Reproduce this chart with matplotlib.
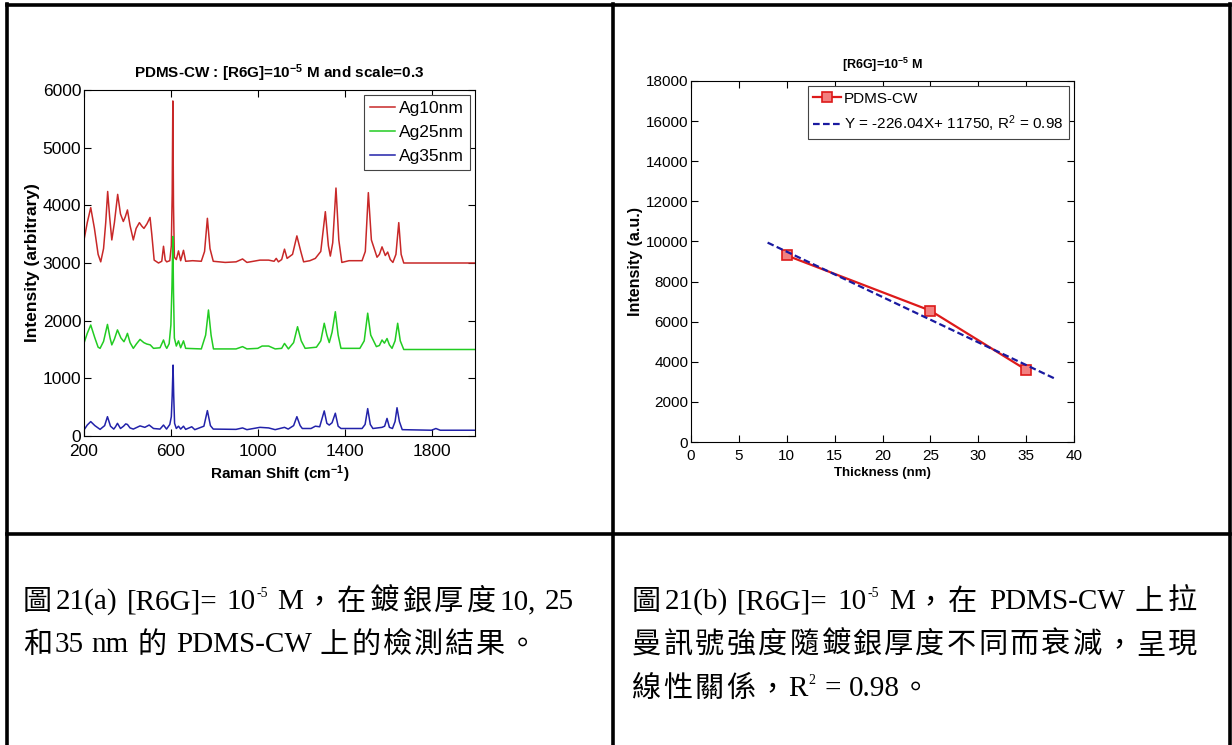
import numpy as np
import matplotlib
matplotlib.use("Agg")
import matplotlib.pyplot as plt

plt.rcParams['font.family'] = ['Liberation Sans', 'DejaVu Sans']
plt.rcParams['mathtext.fontset'] = 'custom'
plt.rcParams['mathtext.rm'] = 'Liberation Sans'
plt.rcParams['mathtext.bf'] = 'Liberation Sans:bold'
plt.rcParams['mathtext.default'] = 'regular'

# Raman spectra (x = shift in cm-1, y = intensity, offsets already included)
ag10 = [(200, 3400), (215, 3700), (231, 3960), (248, 3600), (265, 3150), (277, 3020),
        (290, 3250), (300, 3700), (309, 4240), (318, 3800), (328, 3400), (340, 3700),
        (355, 4190), (368, 3850), (381, 3720), (390, 3800), (400, 3920), (412, 3650),
        (427, 3400), (440, 3600), (455, 3700), (466, 3640), (476, 3600), (490, 3680),
        (504, 3790), (512, 3500), (523, 3050), (543, 3000), (558, 3030), (566, 3290),
        (574, 3050), (581, 3020), (595, 3040), (602, 3300), (606, 4200), (609, 5810),
        (612, 4000), (616, 3100), (625, 3060), (635, 3210), (645, 3040), (658, 3220),
        (668, 3030), (700, 3040), (740, 3030), (755, 3200), (768, 3775), (780, 3250),
        (795, 3030), (850, 3010), (900, 3020), (930, 3070), (950, 3010), (1010, 3050),
        (1050, 3050), (1075, 3030), (1085, 3080), (1095, 3020), (1110, 3060), (1123, 3240),
        (1135, 3080), (1160, 3150), (1180, 3470), (1198, 3200), (1211, 3020), (1240, 3040),
        (1265, 3080), (1290, 3200), (1311, 3890), (1325, 3300), (1334, 3120), (1345, 3350),
        (1360, 4300), (1373, 3400), (1387, 3010), (1420, 3040), (1480, 3040), (1495, 3200),
        (1509, 4220), (1523, 3400), (1549, 3100), (1560, 3150), (1572, 3280), (1587, 3130),
        (1598, 3190), (1610, 3060), (1622, 3010), (1636, 3150), (1649, 3700), (1660, 3150),
        (1672, 3000), (1800, 3000), (2000, 3000)]

ag25 = [(200, 1610), (215, 1780), (231, 1925), (250, 1700), (265, 1540), (274, 1520),
        (290, 1640), (308, 1935), (320, 1700), (328, 1580), (340, 1680), (354, 1840),
        (370, 1700), (384, 1635), (392, 1700), (400, 1780), (412, 1620), (427, 1520),
        (442, 1600), (458, 1675), (475, 1620), (489, 1595), (505, 1580), (520, 1520),
        (550, 1530), (566, 1665), (575, 1560), (581, 1520), (592, 1600), (600, 1925),
        (605, 2600), (609, 3460), (612, 2500), (616, 1700), (625, 1560), (635, 1650),
        (645, 1530), (658, 1650), (668, 1520), (740, 1510), (760, 1750), (773, 2185),
        (785, 1750), (796, 1510), (900, 1510), (930, 1550), (950, 1510), (1000, 1520),
        (1020, 1560), (1050, 1560), (1080, 1510), (1110, 1520), (1123, 1605), (1141, 1510),
        (1165, 1620), (1183, 1895), (1200, 1650), (1218, 1520), (1270, 1540), (1290, 1650),
        (1306, 1955), (1318, 1750), (1329, 1620), (1342, 1800), (1357, 2155), (1370, 1750),
        (1383, 1520), (1470, 1520), (1490, 1650), (1506, 2130), (1520, 1750), (1546, 1550),
        (1560, 1570), (1572, 1665), (1583, 1610), (1595, 1690), (1606, 1580), (1618, 1520),
        (1632, 1650), (1644, 1955), (1656, 1650), (1672, 1500), (2000, 1500)]

ag35 = [(200, 105), (215, 190), (231, 250), (250, 180), (274, 115), (295, 180), (308, 335),
        (322, 170), (337, 120), (345, 160), (354, 220), (368, 130), (382, 170), (392, 210),
        (400, 200), (412, 140), (427, 120), (458, 175), (480, 150), (500, 190), (520, 130),
        (550, 120), (566, 190), (580, 120), (595, 200), (602, 335), (606, 700), (610, 1230),
        (613, 700), (617, 220), (625, 130), (635, 170), (645, 120), (658, 170), (668, 115),
        (696, 160), (710, 110), (752, 170), (768, 440), (782, 180), (795, 120), (900, 115),
        (930, 140), (950, 110), (1010, 150), (1050, 140), (1080, 110), (1123, 150),
        (1140, 120), (1165, 180), (1180, 335), (1195, 180), (1205, 130), (1245, 130),
        (1265, 170), (1285, 160), (1306, 435), (1318, 220), (1329, 190), (1342, 230),
        (1357, 395), (1370, 170), (1383, 130), (1480, 130), (1494, 200), (1506, 475),
        (1518, 200), (1530, 130), (1572, 150), (1584, 170), (1595, 305), (1606, 150),
        (1620, 130), (1632, 250), (1641, 490), (1652, 250), (1665, 110), (1800, 100),
        (1820, 130), (1840, 100), (2000, 100)]

spectra_labels = ['Ag10nm', 'Ag25nm', 'Ag35nm']
spectra_colors = ['#c82828', '#22cc22', '#2222aa']

# Intensity vs silver thickness
thickness = [10, 25, 35]
intensity = [9300, 6550, 3600]
fit_slope = -226.04
fit_intercept = 11750
fit_range = [8, 38]

W, H = 1232, 745
fig = plt.figure(figsize=(W / 100, H / 100), dpi=100)


def px_axes(left, top, right, bottom):
    return fig.add_axes([left / W, 1 - bottom / H, (right - left) / W, (bottom - top) / H])


def matlab_style(ax, size, xpad, ypad):
    ax.tick_params(direction='in', top=True, right=True, length=5, width=0.8,
                   labelsize=size)
    ax.tick_params(axis='x', pad=xpad)
    ax.tick_params(axis='y', pad=ypad)
    for s in ax.spines.values():
        s.set_linewidth(0.8)


# --- left: spectra ---
ax1 = px_axes(84, 90, 475, 436)
for data, lab, col in zip([ag10, ag25, ag35], spectra_labels, spectra_colors):
    xs, ys = np.array(data).T
    ax1.plot(xs, ys, color=col, lw=1.1, label=lab)
ax1.set_xlim(200, 2000)
ax1.set_ylim(0, 6000)
ax1.set_xticks([200, 600, 1000, 1400, 1800])
ax1.set_yticks(range(0, 6001, 1000))
matlab_style(ax1, 12.5, 6, 2)
ax1.set_title(r'PDMS-CW : [R6G]=10$^{\mathbf{-5}}$ M and scale=0.3',
              fontsize=11, fontweight='bold', pad=9)
ax1.set_xlabel(r'Raman Shift (cm$^{\mathbf{-1}}$)', fontsize=11, fontweight='bold', labelpad=3)
ax1.set_ylabel('Intensity (arbitrary)', fontsize=12.5, fontweight='bold', labelpad=2)
leg1 = ax1.legend(loc='upper right', fontsize=12.5, fancybox=False, framealpha=1,
                  edgecolor='#444444', borderaxespad=0.3, handlelength=1.45,
                  handletextpad=0.2, labelspacing=0.5, borderpad=0.35)
leg1.get_frame().set_linewidth(0.8)

# --- right: intensity vs thickness ---
ax2 = px_axes(691, 81, 1074, 442)
ax2.plot(thickness, intensity, color='#dd1a1a', lw=1.6, marker='s', markersize=6.5,
         markerfacecolor='#f28080', markeredgecolor='#dd1a1a', markeredgewidth=1.2,
         label='PDMS-CW')
fx = np.array(fit_range)
ax2.plot(fx, fit_slope * fx + fit_intercept, color='#1a1aa0', lw=1.6, ls=(0, (3, 1.5)),
         label=r'Y = -226.04X+ 11750, R$^2$ = 0.98')
ax2.set_xlim(0, 40)
ax2.set_ylim(0, 18000)
ax2.set_xticks(range(0, 41, 5))
ax2.set_yticks(range(0, 18001, 2000))
matlab_style(ax2, 11, 5, 2)
ax2.set_title(r'[R6G]=10$^{\mathbf{-5}}$ M', fontsize=9, fontweight='bold', pad=9)
ax2.set_xlabel('Thickness (nm)', fontsize=9.5, fontweight='bold', labelpad=3)
ax2.set_ylabel('Intensity (a.u.)', fontsize=11.5, fontweight='bold', labelpad=2)
leg2 = ax2.legend(loc='upper right', fontsize=11, fancybox=False, framealpha=1,
                  edgecolor='#444444', borderaxespad=0.35, handlelength=1.8,
                  handletextpad=0.2, labelspacing=0.5, borderpad=0.35)
leg2.get_frame().set_linewidth(0.8)

# --- table frame and captions (overlay in pixel units) ---
cap = fig.add_axes([0, 0, 1, 1], zorder=-1)
cap.set_xlim(0, W)
cap.set_ylim(H, 0)
cap.axis('off')
for xs, ys in [([7, 1230], [5, 5]), ([7, 1230], [534, 534]),
               ([7, 7], [4, H]), ([613, 613], [4, H]), ([1230, 1230], [4, H])]:
    cap.plot(xs, ys, color='black', lw=2.6, solid_capstyle='projecting')

cap_font = ['Liberation Serif', 'Noto Sans CJK TC']
LATIN_SIZE = 21
CJK_SIZE = 21
EM = LATIN_SIZE * 100 / 72      # latin em in pixels
CJK_EM = CJK_SIZE * 100 / 72
PITCH = 31.3                    # grid step for CJK characters
SPACE = 0.25 * EM
renderer = fig.canvas.get_renderer()


def tokenize(parts):
    toks = []
    for s, sup in parts:
        run = ''
        for ch in s:
            if ch == ' ' or ord(ch) > 0x2E80:
                if run:
                    toks.append((run, sup, 'latin'))
                    run = ''
                toks.append((ch, sup, 'space' if ch == ' ' else 'cjk'))
            else:
                run += ch
        if run:
            toks.append((run, sup, 'latin'))
    return toks


def caption(x0, y, parts, right=None):
    toks = tokenize(parts)
    arts, widths = [], []
    for t, sup, kind in toks:
        if kind == 'space':
            arts.append(None)
            widths.append(SPACE)
            continue
        if sup:
            fs, yy = 10, y - 12
        elif kind == 'cjk':
            fs, yy = CJK_SIZE, y + 1
        else:
            fs, yy = LATIN_SIZE, y
        a = cap.text(x0, yy, t, fontsize=fs, family=cap_font, ha='left', va='baseline')
        arts.append(a)
        widths.append(PITCH if kind == 'cjk' else a.get_window_extent(renderer).width + 1)
    # justified lines: spread the leftover room over CJK cells and spaces
    stretch = [k != 'latin' for _, _, k in toks]
    if toks[-1][2] == 'cjk':
        stretch[-1] = False
    extra = 0
    if right is not None:
        end = x0 + sum(widths) - (PITCH - CJK_EM * 0.95 if toks[-1][2] == 'cjk' else 0)
        extra = max(right - end, 0) / max(sum(stretch), 1)
    x = x0
    for a, w, st in zip(arts, widths, stretch):
        if a is not None:
            a.set_x(x)
        x += w + (extra if st else 0)


caption(23, 609, [('圖21(a) [R6G]= 10', False), ('-5', True), (' M，在鍍銀厚度10, 25', False)],
        right=575)
caption(23, 652, [('和35 nm 的 PDMS-CW 上的檢測結果。', False)])
caption(632, 609, [('圖21(b) [R6G]= 10', False), ('-5', True), (' M，在 PDMS-CW 上拉', False)],
        right=1195)
caption(632, 652, [('曼訊號強度隨鍍銀厚度不同而衰減，呈現', False)], right=1195)
caption(632, 696, [('線性關係，R', False), ('2', True), (' = 0.98。', False)])

fig.savefig('out.png', dpi=100)
